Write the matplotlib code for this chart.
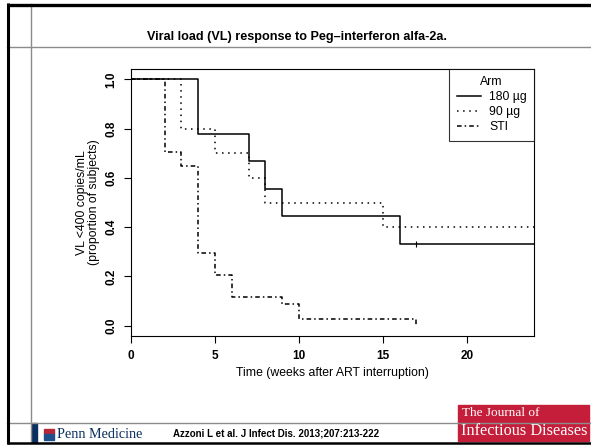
import numpy as np
import matplotlib
matplotlib.use("Agg")
from matplotlib import pyplot as plt
from matplotlib.patches import Rectangle

plt.rcParams['font.family'] = ['Liberation Sans', 'DejaVu Sans']

# Kaplan-Meier curves
t_180 = [0, 4, 7, 8, 9, 16, 24]
s_180 = [1.0, 0.778, 0.667, 0.556, 0.444, 0.333, 0.333]
cens_180_t = [17]
cens_180_s = [0.333]

t_90 = [0, 3, 5, 7, 8, 15, 24]
s_90 = [1.0, 0.8, 0.7, 0.6, 0.5, 0.4, 0.4]

t_sti = [0, 2, 3, 4, 5, 6, 9, 10, 17]
s_sti = [1.0, 0.706, 0.647, 0.294, 0.205, 0.118, 0.088, 0.029, 0.0]

arm_labels = ["180 \u00b5g", "90 \u00b5g", "STI"]
xticks = [0, 5, 10, 15, 20]
yticks = [0.0, 0.2, 0.4, 0.6, 0.8, 1.0]

W, H = 591, 446
fig = plt.figure(figsize=(W / 100, H / 100), dpi=100)

# slide frame, drawn in pixel coordinates
bg = fig.add_axes([0, 0, 1, 1])
bg.set_xlim(0, W)
bg.set_ylim(H, 0)
bg.axis('off')
bg.plot([31, 31], [4, 443], color='#8c8c8c', lw=1.0)
bg.plot([7, W], [47, 47], color='#8c8c8c', lw=1.0)
bg.plot([7, W], [423, 423], color='#8c8c8c', lw=1.0)
bg.plot([8, 8], [3, 444], color='black', lw=2.2, solid_capstyle='butt')
bg.plot([7, W], [4.5, 4.5], color='black', lw=2.4, solid_capstyle='butt')
bg.plot([7, W], [443, 443], color='black', lw=1.8, solid_capstyle='butt')
bg.add_patch(Rectangle((32, 423), 5, 19, color='#0b2f5e'))
bg.add_patch(Rectangle((458, 405), 131, 36, color='#c41e3a'))
# small Penn shield
bg.add_patch(Rectangle((44, 429), 10, 5, color='#b5283a'))
bg.add_patch(Rectangle((44, 434), 10, 6, color='#1f4e8c'))
bg.text(57, 434, "Penn Medicine", family='Liberation Serif', fontsize=10.2,
        color='#0b2f5e', va='center', ha='left')
bg.text(173, 434, "Azzoni L et al. J Infect Dis. 2013;207:213-222",
        fontsize=7.0, fontweight='bold', va='center', ha='left')
bg.text(462, 413, "The Journal of", family='Liberation Serif', fontsize=9.5,
        color='white', va='center', ha='left')
bg.text(461, 431, "Infectious Diseases", family='Liberation Serif', fontsize=11.7,
        color='white', va='center', ha='left')
bg.text(297, 37, "Viral load (VL) response to Peg\u2013interferon alfa-2a.",
        fontsize=9.1, fontweight='bold', ha='center', va='center')

ax = fig.add_axes([131 / W, 1 - 336 / H, (534 - 131) / W, (336 - 69) / H])
lw = 1.1
ax.step(t_180, s_180, where='post', color='black', lw=lw, label=arm_labels[0])
ax.step(t_90, s_90, where='post', color='black', lw=lw, linestyle=(0, (1, 3)),
        label=arm_labels[1])
ax.step(t_sti, s_sti, where='post', color='black', lw=lw, linestyle=(0, (3, 2, 1, 2)),
        label=arm_labels[2])
ax.plot(cens_180_t, cens_180_s, marker='|', ms=5, mew=0.8, color='black', ls='none')

ax.set_xlim(0, 24)
ax.set_ylim(-0.042, 1.042)
ax.set_xticks(xticks)
ax.set_yticks(yticks)
ax.set_xticklabels([str(v) for v in xticks], fontweight='bold')
ax.set_yticklabels(["%.1f" % v for v in yticks], rotation=90, va='center',
                   fontweight='bold')
ax.tick_params(direction='out', length=5, width=0.8, labelsize=8.5, pad=5)
for sp in ax.spines.values():
    sp.set_linewidth(0.8)
ax.set_xlabel("Time (weeks after ART interruption)", fontsize=8.8, labelpad=4)
ax.set_ylabel("VL <400 copies/mL\n(proportion of subjects)", fontsize=8.8,
              labelpad=4, linespacing=0.9)

leg = ax.legend(title="Arm", loc='upper right', fontsize=8.8, title_fontsize=8.8,
                frameon=True, fancybox=False, borderaxespad=0, handlelength=2.0,
                handletextpad=0.65, labelspacing=0.25, borderpad=0.6)
leg.get_frame().set_edgecolor('black')
leg.get_frame().set_linewidth(0.8)

fig.savefig("out.png", dpi=100)
